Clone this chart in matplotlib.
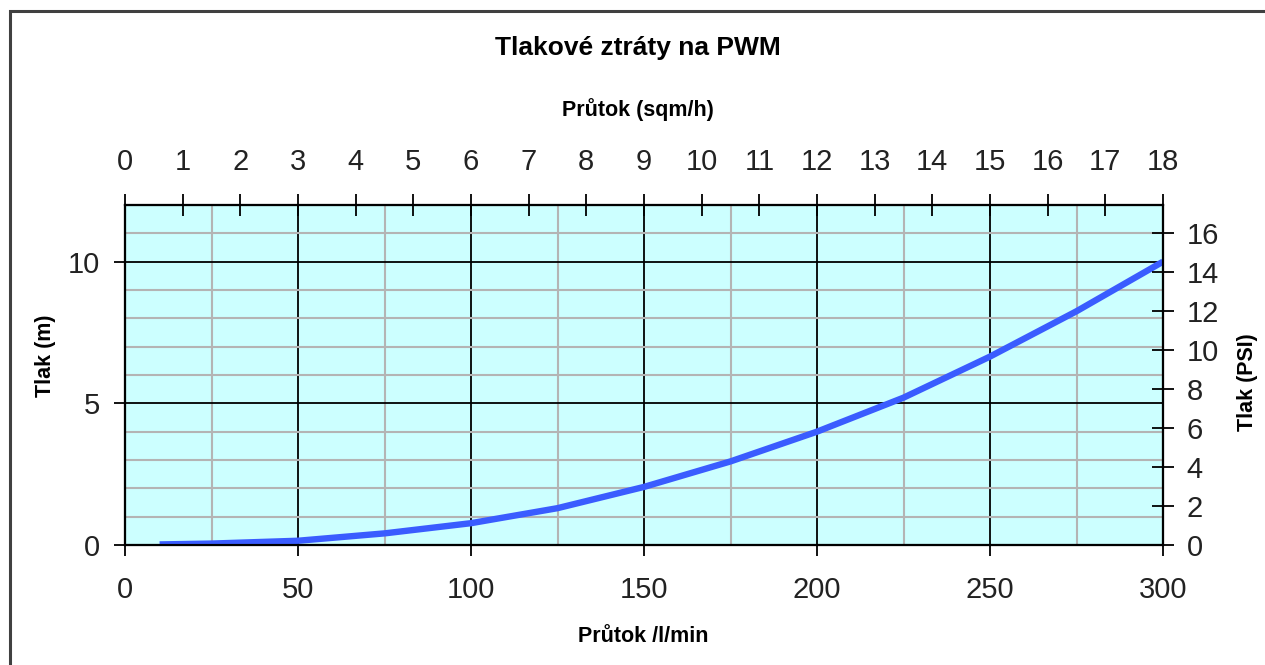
"""
Tlakove ztraty na PWM - pressure loss chart.
"""
import matplotlib
matplotlib.use('Agg')
import matplotlib.pyplot as plt
from matplotlib.ticker import MultipleLocator
from matplotlib.patches import Rectangle

plt.rcParams['font.family'] = ['Liberation Sans', 'DejaVu Sans']

# Flow (l/min) and pressure loss (m)
flow_lpm = [10, 25, 50, 75, 100, 125, 150, 175, 200, 225, 250, 275, 300]
loss_m = [0.02, 0.05, 0.15, 0.41, 0.77, 1.30, 2.05, 2.95, 4.00, 5.20, 6.65, 8.25, 10.0]

top_ticks = list(range(0, 19))          # Průtok (sqm/h)
psi_ticks = list(range(0, 17, 2))       # Tlak (PSI)

W, H = 1265, 665
fig = plt.figure(figsize=(W / 100, H / 100), dpi=100)
fig.patch.set_facecolor('white')

# outer frame (clipped at right and bottom edge)
fig.add_artist(Rectangle((10 / W, -0.02), 1.2, 1.02 - 11 / H, transform=fig.transFigure,
                         fill=False, edgecolor='#404040', linewidth=2.2))

left, right, top, bottom = 125, 1163, 205, 545
ax = fig.add_axes([left / W, 1 - bottom / H, (right - left) / W, (bottom - top) / H])
ax.set_facecolor('#ccffff')
ax.set_xlim(0, 300)
ax.set_ylim(0, 12)
ax.xaxis.set_major_locator(MultipleLocator(50))
ax.xaxis.set_minor_locator(MultipleLocator(25))
ax.yaxis.set_major_locator(MultipleLocator(5))
ax.yaxis.set_minor_locator(MultipleLocator(1))
ax.set_axisbelow(True)
ax.grid(which='minor', color='#b4b4b4', linewidth=1.5)
ax.grid(which='major', color='black', linewidth=1.3)
ax.tick_params(which='minor', length=0)
ax.tick_params(which='major', direction='out', length=8, width=1.3,
               labelsize=21, labelcolor='#222222')
ax.tick_params(axis='x', pad=14)
ax.tick_params(axis='y', pad=10)
for s in ax.spines.values():
    s.set_linewidth(1.5)

ax.plot(flow_lpm, loss_m, color='#3a5cff', linewidth=4.6, solid_capstyle='butt', zorder=3)

# top axis: sqm/h
ax_top = ax.twiny()
ax_top.set_xlim(0, 18)
ax_top.set_xticks(top_ticks)
ax_top.tick_params(direction='inout', length=16, width=1.3, labelsize=21,
                   labelcolor='#222222', pad=13)

# right axis: PSI
ax_r = ax.twinx()
ax_r.set_ylim(0, 17.44)
ax_r.set_yticks(psi_ticks)
ax_r.tick_params(direction='inout', length=16, width=1.3, labelsize=21,
                 labelcolor='#222222', pad=9)
for a in (ax_top, ax_r):
    a.patch.set_visible(False)
    for s in a.spines.values():
        s.set_linewidth(1.5)

fig.text(638 / W, 1 - 48 / H, 'Tlakové ztráty na PWM', ha='center', va='center',
         fontsize=19, fontweight='bold')
fig.text(638 / W, 1 - 110 / H, 'Průtok (sqm/h)', ha='center', va='center',
         fontsize=15.5, fontweight='bold')
fig.text(643 / W, 1 - 637 / H, 'Průtok /l/min', ha='center', va='center',
         fontsize=15.5, fontweight='bold')
fig.text(45 / W, 1 - 356 / H, 'Tlak (m)', ha='center', va='center', rotation=90,
         fontsize=15.5, fontweight='bold')
fig.text(1247 / W, 1 - 382 / H, 'Tlak (PSI)', ha='center', va='center', rotation=90,
         fontsize=15.5, fontweight='bold')

fig.savefig('out.png', dpi=100)
